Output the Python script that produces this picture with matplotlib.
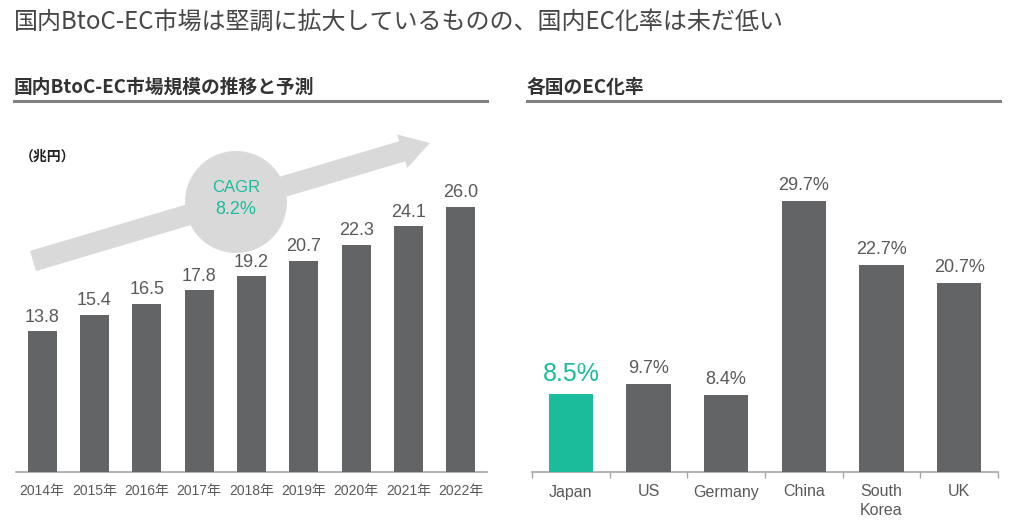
import matplotlib
matplotlib.use("Agg")
import matplotlib.pyplot as plt
from matplotlib.patches import Circle, FancyArrow

# data
years = ["2014年", "2015年", "2016年", "2017年", "2018年",
         "2019年", "2020年", "2021年", "2022年"]
market = [13.8, 15.4, 16.5, 17.8, 19.2, 20.7, 22.3, 24.1, 26.0]
countries = ["Japan", "US", "Germany", "China", "South\nKorea", "UK"]
ec_rate = [8.5, 9.7, 8.4, 29.7, 22.7, 20.7]
cagr = 8.2

BAR = "#636466"
TEAL = "#1abc9c"
TXT = "#595959"
LIGHT = "#d9d9d9"
FAM = ["Liberation Sans", "Noto Sans CJK JP"]
JP = ["Noto Sans CJK JP", "DejaVu Sans"]

W, H = 1024, 527
fig = plt.figure(figsize=(W / 100, H / 100), dpi=100)


def fx(x):
    return x / W


def fy(y):
    return 1 - y / H


# titles
fig.text(fx(14), fy(22), "国内BtoC-EC市場は堅調に拡大しているものの、国内EC化率は未だ低い",
         family=JP, size=17.3, color="#474747", va="center", ha="left")
fig.text(fx(14), fy(87), "国内BtoC-EC市場規模の推移と予測", family=JP, weight="bold",
         size=13.5, color="#333333", va="center", ha="left")
fig.text(fx(527), fy(87), "各国のEC化率", family=JP, weight="bold",
         size=13.5, color="#333333", va="center", ha="left")
for x0, x1 in [(14, 487), (527, 1000)]:
    fig.add_artist(plt.Line2D([fx(x0), fx(x1)], [fy(101), fy(101)],
                              color="#808080", lw=2.2))

# left chart
ax1 = fig.add_axes([fx(16), fy(472), fx(487) - fx(16), fy(110) - fy(472)])
x1 = range(len(years))
ax1.bar(x1, market, width=0.56, color=BAR, zorder=3)
for i, v in enumerate(market):
    ax1.annotate(f"{v:.1f}", (i, v), xytext=(0, 4), textcoords="offset points",
                 ha="center", va="bottom", size=13, color=TXT, family=FAM)
ax1.set_xlim(-0.5, len(years) - 0.5)
ax1.set_ylim(0, 35.5)
ax1.set_xticks(list(x1))
ax1.set_xticklabels(years, family=FAM, size=10, color=TXT)
ax1.tick_params(axis="x", length=0, pad=9)
ax1.set_yticks([])
for s in ["top", "left", "right"]:
    ax1.spines[s].set_visible(False)
ax1.spines["bottom"].set_color("#a6a6a6")
ax1.spines["bottom"].set_linewidth(1.2)
ax1.patch.set_alpha(0)

fig.text(fx(20), fy(157), "（兆円）", family=JP, weight="bold", size=10,
         color="#222222", va="center", ha="left")

# growth arrow + CAGR bubble (inches, figure space), behind the axes
arrow = FancyArrow(0.33, (H - 261) / 100, (430 - 33) / 100, (261 - 143) / 100,
                   width=0.21, head_width=0.35, head_length=0.29,
                   length_includes_head=True, color=LIGHT, lw=0,
                   transform=fig.dpi_scale_trans, zorder=-2)
fig.add_artist(arrow)
fig.add_artist(Circle((2.36, (H - 202) / 100), 0.51, color=LIGHT, lw=0,
                      transform=fig.dpi_scale_trans, zorder=-2))
fig.text(fx(236), fy(188), "CAGR", family=FAM, size=12, color=TEAL,
         ha="center", va="center")
fig.text(fx(236), fy(210), f"{cagr}%", family=FAM, size=13, color=TEAL,
         ha="center", va="center")

# right chart
ax2 = fig.add_axes([fx(532), fy(472), fx(998) - fx(532), fy(110) - fy(472)])
x2 = range(len(countries))
colors = [TEAL] + [BAR] * (len(countries) - 1)
ax2.bar(x2, ec_rate, width=0.57, color=colors, zorder=3)
for i, v in enumerate(ec_rate):
    ax2.annotate(f"{v:.1f}%", (i, v), xytext=(0, 5 if i else 6),
                 textcoords="offset points", ha="center", va="bottom",
                 size=18 if i == 0 else 13, color=TEAL if i == 0 else TXT,
                 family=FAM)
ax2.set_xlim(-0.5, len(countries) - 0.5)
ax2.set_ylim(0, 39.7)
ax2.set_xticks(list(x2))
ax2.set_xticklabels(countries, family=FAM, size=11.5, color=TXT,
                    linespacing=1.3, va="top")
ax2.set_xticks([i - 0.5 for i in range(len(countries) + 1)], minor=True)
ax2.tick_params(axis="x", which="major", length=0, pad=9)
ax2.tick_params(axis="x", which="minor", length=4, width=1, color="#a6a6a6",
                direction="out")
ax2.set_yticks([])
for s in ["top", "left", "right"]:
    ax2.spines[s].set_visible(False)
ax2.spines["bottom"].set_color("#a6a6a6")
ax2.spines["bottom"].set_linewidth(1.2)
ax2.patch.set_alpha(0)

fig.savefig("out.png", dpi=100, facecolor="white")
